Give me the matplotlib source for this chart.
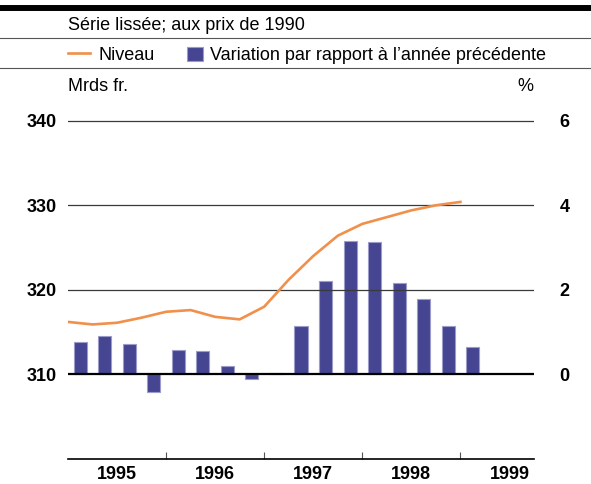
import matplotlib
matplotlib.use("Agg")
import matplotlib.pyplot as plt
from matplotlib.lines import Line2D
from matplotlib.patches import Rectangle
import numpy as np

plt.rcParams['font.family'] = ['Liberation Sans', 'DejaVu Sans']

# ---- data ----
quarters = ['1995Q1', '1995Q2', '1995Q3', '1995Q4',
            '1996Q1', '1996Q2', '1996Q3', '1996Q4',
            '1997Q1', '1997Q2', '1997Q3', '1997Q4',
            '1998Q1', '1998Q2', '1998Q3', '1998Q4',
            '1999Q1']
niveau = [316.2, 315.9, 316.1, 316.7, 317.4, 317.6, 316.8, 316.5,
          318.0, 321.2, 324.0, 326.4, 327.8, 328.6, 329.4, 330.0, 330.4]
variation = [0.76, 0.91, 0.72, -0.43, 0.58, 0.54, 0.20, -0.11,
             0.03, 1.15, 2.22, 3.16, 3.14, 2.16, 1.78, 1.15, 0.65]
years = ['1995', '1996', '1997', '1998', '1999']
left_ticks = [310, 320, 330, 340]
right_ticks = [0, 2, 4, 6]

subtitle = 'Série lissée; aux prix de 1990'
lab_line = 'Niveau'
lab_bar = 'Variation par rapport à l’année précédente'
unit_left = 'Mrds fr.'
unit_right = '%'

ORANGE = '#F0904A'
BLUE = '#454592'
BLUE_EDGE = '#9C9CCB'

# ---- positions ----
qpos = np.array([int(q[:4]) + (int(q[5]) - 1) / 4 for q in quarters])
W, H = 591, 484
fig = plt.figure(figsize=(W / 100, H / 100), dpi=100)

ax_l, ax_r = 68, 534
y_bot, ppu = 458.8, 8.45
ylo, yhi = 300, 342
y_top = y_bot - (yhi - ylo) * ppu
ax = fig.add_axes([ax_l / W, 1 - y_bot / H, (ax_r - ax_l) / W, (y_bot - y_top) / H])
ax2 = ax.twinx()

ax.set_ylim(ylo, yhi)
ax2.set_ylim((ylo - 310) / 5, (yhi - 310) / 5)
ax.set_xlim(1995, 1999.75)

for a in (ax, ax2):
    for s in a.spines.values():
        s.set_visible(False)
    a.patch.set_visible(False)
ax.spines['bottom'].set_visible(True)
ax.spines['bottom'].set_linewidth(1.2)
ax.spines['bottom'].set_color('black')

# gridlines
for v in left_ticks[1:]:
    ax.axhline(v, color='#3a3a3a', lw=0.9, zorder=1)
ax2.axhline(0, color='black', lw=1.6, zorder=4)

# bars (right axis)
ax2.bar(qpos + 0.125, variation, width=0.133, color=BLUE,
        edgecolor=BLUE_EDGE, linewidth=0.8, zorder=3)
# line (left axis)
ax.set_zorder(ax2.get_zorder() + 1)
ax.plot(qpos, niveau, color=ORANGE, lw=1.9, zorder=5, solid_joinstyle='miter')

# y ticks
ax.set_yticks(left_ticks)
ax.set_yticklabels([str(t) for t in left_ticks], fontsize=13, fontweight='bold')
ax.tick_params(axis='y', length=0, pad=7.9)
ax2.set_yticks(right_ticks)
ax2.set_yticklabels([str(t) for t in right_ticks], fontsize=13, fontweight='bold')
ax2.tick_params(axis='y', length=0, pad=18.5)

# x ticks
yr = np.array([int(y) for y in years])
ax.set_xticks(yr[1:])
ax.set_xticklabels([])
ax.tick_params(axis='x', which='major', direction='in', length=5, width=0.8,
               color='#555555')
ax.set_xticks(yr + 0.5, minor=True)
ax.set_xticklabels(years, minor=True, fontsize=13, fontweight='bold')
ax.tick_params(axis='x', which='minor', length=0, pad=5)

# ---- header ----
def fy(py):
    return 1 - py / H

fig.add_artist(Line2D([0, 1], [fy(8), fy(8)], transform=fig.transFigure,
                      color='black', lw=4.3))
for py in (38, 68):
    fig.add_artist(Line2D([0, 1], [fy(py), fy(py)], transform=fig.transFigure,
                          color='#555555', lw=0.8))

fig.text(68 / W, fy(30), subtitle, fontsize=13, va='baseline', ha='left')
fig.add_artist(Line2D([68 / W, 90 / W], [fy(52.7), fy(52.7)],
                      transform=fig.transFigure, color=ORANGE, lw=1.9))
fig.text(98 / W, fy(60), lab_line, fontsize=13, va='baseline', ha='left')
fig.add_artist(Rectangle((187 / W, fy(61)), 16 / W, 14 / H,
                         transform=fig.transFigure, facecolor=BLUE,
                         edgecolor=BLUE_EDGE, lw=0.8))
fig.text(210 / W, fy(60), lab_bar, fontsize=13, va='baseline', ha='left')
fig.text(68 / W, fy(91), unit_left, fontsize=13, va='baseline', ha='left')
fig.text(533 / W, fy(91), unit_right, fontsize=13, va='baseline', ha='right')

fig.savefig('out.png', dpi=100)
